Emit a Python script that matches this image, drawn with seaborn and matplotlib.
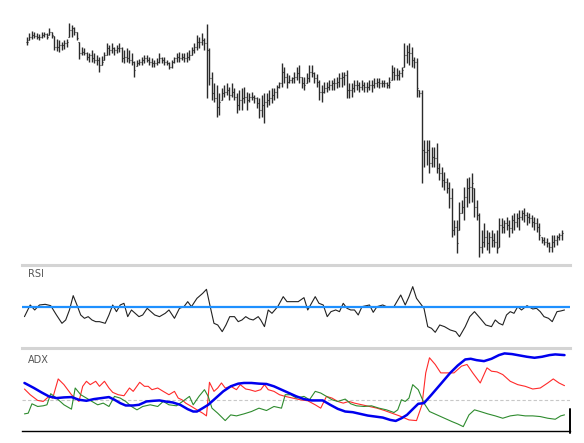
import numpy as np
import pandas as pd
import seaborn as sns
import matplotlib.pyplot as plt

# price bars (one per session)
highs = [88.8, 90.0, 90.7, 90.3, 90.0, 89.7, 90.3, 90.5, 90.2, 91.5, 90.5,
         89.2, 88.2, 88.0, 87.5, 88.0, 88.2, 93.2, 92.5, 92.0, 90.5,
         87.5, 86.0, 85.5, 84.5, 84.0, 85.0, 84.2, 83.5, 83.0, 83.2,
         84.5, 87.0, 86.5, 87.0, 86.0, 86.5, 87.0, 86.0, 85.0, 85.5,
         85.0, 84.0, 81.8, 82.0, 82.2, 83.0, 83.5, 83.5, 83.0, 82.5,
         82.0, 82.5, 84.0, 83.0, 83.0, 82.0, 81.5, 82.0, 83.0, 84.0,
         84.5, 84.0, 84.0, 84.5, 85.0, 86.0, 87.0, 89.5, 89.0, 90.0,
         88.5, 92.8, 85.6, 78.5, 75.0, 74.5, 72.0, 73.5, 74.5, 75.2,
         74.0, 75.0, 73.5, 72.0, 73.0, 73.5, 73.8, 72.5, 72.0, 72.5,
         71.5, 71.0, 70.5, 71.5, 72.0, 72.0, 73.0, 73.5, 73.5, 74.5,
         75.5, 81.0, 80.0, 78.0, 77.5, 77.0, 78.5, 80.0, 80.5, 77.0,
         77.0, 78.0, 80.5, 80.5, 78.5, 77.8, 76.0, 74.5, 75.5, 75.5,
         76.0, 76.0, 76.5, 77.0, 78.0, 78.5, 78.5, 79.0, 75.0, 75.0,
         76.0, 76.0, 75.5, 76.0, 75.5, 75.5, 76.0, 76.0, 76.5, 76.5,
         76.5, 76.0, 76.0, 75.5, 77.0, 80.5, 80.0, 79.5, 79.0, 80.0,
         87.0, 86.5, 87.0, 86.0, 83.0, 82.5, 73.0, 73.0, 58.0, 58.0,
         58.0, 56.0, 56.0, 57.0, 51.0, 50.0, 48.5, 46.5, 45.5, 43.5,
         34.0, 34.0, 39.5, 40.0, 44.0, 46.5, 47.0, 48.0, 43.5, 40.0,
         36.0, 31.0, 33.0, 31.0, 30.5, 31.0, 30.0, 31.0, 34.5, 34.5,
         34.0, 35.0, 34.0, 35.5, 36.0, 36.0, 37.0, 37.0, 37.5, 36.5,
         36.0, 35.5, 35.0, 34.5, 33.0, 29.0, 29.0, 28.5, 27.5, 29.5,
         29.5, 29.5, 30.0, 31.0]
lows = [86.5, 88.0, 88.2, 88.5, 88.2, 88.0, 88.7, 89.0, 88.2, 89.5, 88.5,
        85.0, 84.8, 84.5, 85.0, 85.2, 86.0, 88.8, 89.0, 89.5, 88.0,
        82.2, 83.5, 83.5, 82.0, 81.5, 81.5, 81.2, 80.5, 78.5, 80.5,
        82.0, 83.5, 83.5, 84.0, 83.5, 84.0, 84.5, 81.5, 81.0, 81.5,
        81.0, 80.5, 77.0, 80.2, 80.5, 80.5, 81.0, 81.5, 80.5, 80.0,
        80.0, 80.5, 81.0, 81.0, 80.5, 80.5, 79.2, 79.5, 81.0, 81.5,
        81.5, 82.0, 81.5, 81.5, 82.0, 83.5, 84.0, 85.0, 85.5, 86.5,
        85.0, 70.5, 74.5, 70.0, 69.5, 65.0, 65.5, 70.0, 71.0, 71.5,
        70.0, 71.0, 70.0, 66.0, 67.0, 67.0, 69.0, 67.0, 69.5, 70.0,
        69.0, 67.5, 64.5, 65.0, 63.0, 68.0, 68.5, 69.0, 70.0, 70.5,
        73.5, 74.0, 75.0, 73.5, 75.0, 75.0, 75.0, 76.0, 75.0, 73.5,
        73.0, 75.0, 75.5, 77.0, 75.0, 74.0, 70.0, 69.5, 72.0, 72.5,
        73.0, 73.0, 73.0, 73.5, 74.0, 74.0, 74.5, 70.5, 70.5, 71.0,
        72.5, 73.0, 72.5, 73.0, 72.5, 72.5, 73.0, 72.5, 73.5, 74.0,
        73.5, 74.0, 74.0, 73.5, 73.5, 76.0, 76.0, 76.0, 76.0, 77.0,
        80.0, 81.0, 80.5, 80.0, 79.5, 71.0, 71.0, 45.0, 50.0, 50.5,
        48.0, 50.0, 50.0, 48.0, 46.0, 44.0, 43.0, 42.0, 37.5, 29.0,
        29.5, 24.0, 31.0, 36.0, 34.0, 38.0, 39.0, 39.5, 35.0, 34.0,
        23.0, 24.0, 26.0, 25.0, 24.0, 26.0, 26.0, 24.0, 26.0, 30.0,
        30.0, 31.0, 29.0, 30.0, 31.0, 32.0, 31.0, 34.0, 33.5, 32.5,
        33.0, 32.0, 31.0, 30.5, 28.0, 27.0, 26.5, 26.0, 24.5, 24.5,
        26.0, 26.5, 28.0, 28.0]
closes = [87.5, 89.0, 89.5, 89.2, 89.0, 88.8, 89.5, 89.8, 89.0, 90.5, 89.5,
          86.0, 86.0, 86.5, 86.5, 87.0, 87.5, 91.0, 91.5, 90.5, 88.5,
          84.0, 84.5, 84.0, 83.0, 83.5, 82.5, 82.0, 82.0, 80.5, 81.5,
          83.5, 85.5, 85.0, 85.5, 85.0, 85.5, 85.5, 82.5, 83.0, 82.5,
          82.0, 81.5, 79.0, 81.0, 81.5, 82.0, 82.5, 82.0, 81.5, 81.0,
          81.0, 81.5, 82.5, 82.0, 81.5, 81.0, 80.0, 81.5, 82.5, 83.0,
          82.5, 83.0, 82.5, 83.0, 83.5, 85.0, 86.0, 87.5, 87.5, 88.0,
          87.0, 85.0, 76.5, 72.0, 70.5, 68.0, 69.5, 72.0, 72.5, 73.0,
          71.5, 72.5, 71.0, 68.5, 70.0, 70.5, 71.0, 70.0, 71.0, 71.0,
          70.5, 69.0, 67.0, 68.5, 69.5, 70.0, 70.5, 71.5, 72.5, 74.0,
          75.0, 78.5, 77.0, 75.5, 76.0, 76.5, 77.0, 78.0, 77.0, 75.0,
          74.5, 76.5, 78.5, 78.0, 76.5, 75.5, 72.5, 72.5, 73.5, 74.0,
          74.5, 75.0, 75.0, 75.5, 76.5, 77.0, 77.5, 73.0, 73.0, 73.5,
          74.5, 74.5, 74.0, 74.5, 74.0, 74.0, 74.5, 74.5, 75.0, 75.5,
          75.0, 75.0, 75.0, 74.5, 75.5, 78.5, 77.5, 77.5, 78.0, 79.0,
          83.5, 84.5, 84.0, 82.0, 81.5, 73.5, 72.0, 55.0, 54.5, 55.0,
          51.0, 53.0, 52.5, 49.5, 48.0, 46.0, 45.5, 43.5, 40.5, 31.0,
          32.0, 27.0, 36.0, 38.0, 41.0, 43.5, 44.0, 45.0, 38.0, 35.5,
          26.0, 27.5, 29.0, 27.0, 29.0, 28.0, 27.5, 25.5, 32.5, 32.0,
          33.0, 32.5, 31.5, 34.0, 33.5, 34.5, 35.0, 36.0, 35.5, 35.0,
          34.5, 33.5, 33.0, 32.0, 29.5, 28.0, 27.5, 27.0, 26.0, 27.5,
          28.0, 29.0, 29.5, 30.0]

# RSI (session number, value)
rsi_t = [-0.9, 1.4, 3.2, 5.1, 7.4, 9.6, 11.9, 14.1, 15.6, 17.1, 18.6, 20.1, 21.6,
         23.1, 24.6, 26.1, 27.6, 29.1, 31.4, 32.9, 34.4, 35.9, 37.4, 38.9, 40.4,
         41.9, 43.4, 44.9, 46.4, 48.2, 49.7, 51.2, 53.1, 55.4, 56.9, 59.1, 61.1,
         62.9, 64.4, 65.9, 68.1, 70.4, 71.9, 73.4, 74.9, 76.4, 78.2, 79.7, 81.2,
         83.1, 84.6, 86.1, 87.6, 89.1, 90.6, 92.6, 93.6, 95.1, 96.6, 98.1, 100.4,
         102.6, 104.1, 106.4, 108.6, 110.9, 112.4, 113.9, 115.4, 116.9, 118.6,
         120.2, 121.7, 123.6, 125.1, 126.6, 128.1, 129.6, 131.1, 132.6, 134.1,
         137.1, 138.6, 140.1, 142.4, 143.9, 146.9, 149.6, 151.4, 152.9, 154.4,
         155.9, 157.4, 158.9, 160.4, 161.9, 163.4, 165.2, 167.1, 169.4, 171.6,
         173.1, 175.4, 177.2, 179.1, 181.4, 183.6, 185.9, 187.4, 188.9, 190.4,
         191.9, 193.4, 194.9, 196.4, 197.9, 200.1, 202.4, 203.9, 205.4, 206.9,
         208.7, 210.2, 212.1, 213.6, 215.1]
rsi = [38.0, 52.0, 46.0, 52.0, 52.8, 51.2, 40.0, 30.0, 34.0, 46.0, 63.2, 52.0, 40.0,
       36.0, 38.0, 34.0, 32.0, 32.0, 30.0, 40.0, 52.0, 44.0, 52.0, 54.0, 38.0,
       46.0, 42.0, 38.0, 40.0, 48.0, 44.0, 40.0, 38.0, 42.0, 46.0, 36.0, 48.0,
       50.0, 56.0, 50.0, 60.0, 66.0, 70.8, 50.0, 30.0, 28.0, 20.0, 28.0, 38.0,
       38.0, 32.0, 34.0, 38.0, 35.2, 34.0, 38.0, 34.0, 26.0, 46.0, 42.0, 50.0,
       62.0, 56.0, 56.0, 56.0, 60.8, 46.0, 54.0, 62.0, 54.0, 52.0,
       38.0, 44.0, 46.0, 44.0, 54.0, 48.0, 46.0, 46.0, 40.0, 50.0,
       52.0, 43.2, 50.0, 52.0, 50.0, 50.0, 64.0, 52.0, 62.0, 74.0,
       60.0, 54.0, 48.0, 26.0, 24.0, 19.2, 28.0, 26.0, 22.0, 20.0,
       14.0, 26.0, 38.0, 44.0, 36.0, 28.0, 26.0, 34.0, 30.0, 28.0,
       40.0, 44.0, 42.0, 50.0, 46.0, 51.2, 47.2, 48.0, 44.0, 38.0,
       36.0, 32.0, 44.0, 44.8, 46.0]

# ADX
adx_t = [-0.9, 2.9, 5.9, 8.9, 11.9, 14.9, 17.9, 20.9, 23.9, 26.9, 29.9, 32.9,
         35.1, 37.4, 39.6, 42.6, 44.9, 47.9, 50.9, 53.1, 55.4, 58.4, 61.4, 64.4,
         66.6, 68.1, 70.4, 72.6, 75.6, 78.6, 81.6, 84.6, 86.9, 89.9, 92.9, 95.9,
         98.9, 101.9, 104.9, 107.9, 110.9, 113.9, 118.4, 121.4, 124.4, 127.4,
         130.4, 133.4, 136.4, 139.4, 142.4, 145.4, 147.6, 149.9, 152.1, 154.4,
         156.6, 158.9, 161.9, 165.6, 169.4, 172.4, 175.4, 177.6, 179.9, 182.9,
         185.9, 188.9, 191.1, 194.1, 197.1, 200.1, 203.1, 206.1, 209.1, 211.4, 215.1]
adx = [32.5, 28.75, 25.5, 22.5, 21.25, 21.75, 22.0, 20.0, 19.25, 20.5, 21.25, 22.0,
       20.0, 17.5, 15.75, 15.75, 16.25, 18.75, 19.25, 19.5, 18.75, 18.0, 16.25, 13.0,
       11.25, 11.25, 13.75, 16.25, 21.25, 26.25, 30.0, 32.0, 32.5, 32.5, 32.0, 31.75,
       30.0, 27.5, 25.0, 22.5, 20.5, 19.5, 19.5, 16.25, 13.25, 11.25,
       10.75, 9.5, 8.25, 7.5, 6.75, 5.0, 4.25, 6.25, 8.75, 13.0,
       17.0, 17.5, 23.75, 31.75, 40.0, 45.5, 50.0, 50.5, 49.5, 48.75,
       50.5, 53.25, 54.5, 54.0, 53.0, 52.0, 51.25, 52.0, 53.25, 53.75, 53.25]

# +DI
pdi_t = [-0.9, 1.4, 4.4, 6.6, 8.9, 10.4, 12.6, 14.9, 17.9, 20.9, 22.4, 23.9, 25.4,
         27.6, 29.1, 31.1, 32.9, 34.4, 36.6, 38.9, 41.1, 42.6, 45.2, 47.1, 48.6,
         50.1, 52.4, 54.6, 56.9, 59.1, 60.6, 62.1, 63.6, 65.9, 68.1, 70.4, 71.9,
         73.1, 74.9, 76.4, 77.9, 79.4, 81.6, 83.9, 85.4, 87.6, 89.1, 91.4, 93.6,
         95.1, 96.6, 98.9, 101.1, 103.4, 106.4, 109.4, 112.4, 115.4, 117.6, 119.9,
         122.1, 124.4, 126.6, 128.9, 131.1, 134.1, 137.1, 140.1, 143.1, 146.1,
         149.1, 152.9, 155.9, 158.1, 159.6, 161.1, 163.4, 165.6, 167.9, 170.9,
         173.9, 176.1, 178.4, 181.4, 184.1, 185.9, 188.1, 190.4, 193.4, 196.4,
         199.4, 202.4, 205.4, 208.4, 210.6, 212.9, 215.1]
pdi = [28.0, 23.75, 19.5, 18.75, 22.5, 21.25, 35.5, 31.25, 23.75, 18.75, 30.0, 33.75, 31.25,
       33.75, 30.0, 33.75, 28.75, 25.5, 23.75, 23.0, 28.75, 26.25, 33.0, 30.0, 30.0,
       27.5, 28.75, 26.25, 23.75, 26.25, 21.25, 20.0, 17.5, 15.0, 12.5, 10.0, 8.0,
       33.0, 26.25, 28.75, 32.5, 28.75, 30.0, 27.5, 31.25, 28.0, 27.5, 26.25, 27.5,
       31.25, 27.5, 26.25, 23.75, 22.5, 21.25, 20.0, 19.25, 16.25, 13.75, 22.5,
       21.25, 18.75, 17.5, 18.75, 17.5, 16.25, 15.0, 13.75, 12.0, 10.0,
       8.0, 5.0, 4.5, 16.25, 40.0, 51.25, 46.25, 40.0, 40.0, 40.0,
       45.0, 46.25, 40.0, 32.5, 43.75, 41.25, 40.75, 38.75, 33.75, 31.25,
       30.0, 28.0, 28.75, 32.5, 35.5, 32.5, 30.5]

# -DI
mdi_t = [-0.9, 0.6, 2.1, 4.4, 6.6, 8.1, 9.6, 11.9, 14.9, 17.9, 19.4, 21.6, 23.9,
         26.1, 28.4, 30.6, 32.9, 35.1, 37.4, 39.6, 41.9, 44.1, 46.4, 49.4, 52.4,
         54.6, 56.9, 59.9, 62.9, 65.1, 66.6, 68.9, 71.1, 72.6, 74.1, 76.4, 79.4,
         81.6, 83.9, 86.9, 89.9, 92.9, 95.9, 98.9, 101.9, 103.4, 105.6, 107.9,
         110.9, 113.1, 115.4, 117.6, 119.9, 122.1, 124.4, 127.4, 129.6, 131.9,
         134.9, 137.9, 140.9, 143.9, 146.9, 148.4, 149.9, 151.4, 152.9, 154.4,
         156.6, 158.9, 161.1, 164.1, 167.1, 170.1, 172.4, 174.6, 176.9, 179.1,
         181.4, 184.4, 187.4, 190.4, 193.4, 196.4, 199.4, 202.4, 205.4, 208.4,
         211.4, 213.6, 215.1]
mdi = [9.5, 10.0, 17.0, 15.0, 15.5, 16.25, 24.5, 21.25, 16.25, 13.0, 28.75, 23.75, 21.25,
       18.75, 16.25, 17.5, 15.0, 22.5, 21.25, 18.75, 15.0, 12.5, 15.0, 16.25, 15.0,
       18.75, 16.25, 15.5, 19.5, 22.5, 16.25, 22.5, 27.5, 22.5, 13.75, 10.0, 4.5,
       8.75, 8.0, 9.5, 11.25, 13.75, 12.0, 15.0, 13.75, 23.75, 23.75, 21.25,
       22.5, 20.0, 26.25, 25.0, 22.5, 20.0, 18.75, 20.5, 17.0, 15.5,
       15.0, 15.5, 13.75, 12.5, 10.5, 12.5, 20.0, 18.75, 21.25, 31.25,
       27.5, 17.5, 11.25, 8.75, 6.25, 3.75, 2.0, 0.0, 8.75, 12.5,
       11.25, 9.5, 8.0, 6.25, 8.0, 8.75, 8.0, 8.0, 7.5, 6.25,
       5.5, 8.0, 8.75]

sns.set_style("white")
fig = plt.figure(figsize=(5.84, 4.43), dpi=100)

left, width = 22 / 584, 548 / 584
ax_price = fig.add_axes([left, 181 / 443, width, 262 / 443])
ax_rsi = fig.add_axes([left, 94.7 / 443, width, 83.3 / 443])
ax_adx = fig.add_axes([left, 12 / 443, width, 82.7 / 443])

hi = np.array(highs)
lo = np.array(lows)
cl = np.clip(np.array(closes), lo, hi)
op = np.clip(np.r_[cl[0], cl[:-1]], lo, hi)
idx = np.arange(len(hi))

bar_color = "#2b2b2b"
ax_price.vlines(idx, lo, hi, color=bar_color, lw=1.0)
ax_price.hlines(op, idx - 0.45, idx, color=bar_color, lw=0.8)
ax_price.hlines(cl, idx, idx + 0.45, color=bar_color, lw=0.8)
ax_price.set_ylim(21.4, 100)

# RSI
rsi_df = pd.DataFrame({"t": rsi_t, "rsi": rsi})
sns.lineplot(data=rsi_df, x="t", y="rsi", ax=ax_rsi, color="#222222",
             lw=0.8, estimator=None)
ax_rsi.axhline(50, color="#1e90ff", lw=1.6, zorder=3)
ax_rsi.set_ylim(0, 100)
ax_rsi.text(0.011, 0.95, "RSI", transform=ax_rsi.transAxes, fontsize=7,
            color="#555555", va="top", ha="left")

# ADX
ax_adx.axhline(20, color="#c8c8c8", lw=0.8, ls=(0, (3, 2)), zorder=1)
sns.lineplot(x=pdi_t, y=pdi, ax=ax_adx, color="#ff2a2a", lw=0.8, estimator=None)
sns.lineplot(x=mdi_t, y=mdi, ax=ax_adx, color="#2e8b2e", lw=0.8, estimator=None)
sns.lineplot(x=adx_t, y=adx, ax=ax_adx, color="#0000ee", lw=1.8, estimator=None)
ax_adx.set_ylim(-3.25, 58.3)
ax_adx.text(0.011, 0.92, "ADX", transform=ax_adx.transAxes, fontsize=7,
            color="#555555", va="top", ha="left")
ax_adx.plot([1.0, 1.0], [-0.03, 0.26], transform=ax_adx.transAxes,
            color="black", lw=1.4, clip_on=False)

for ax in (ax_price, ax_rsi, ax_adx):
    ax.set_xlim(-1.88, 217.3)
    ax.set_xticks([])
    ax.set_yticks([])
    ax.set_xlabel("")
    ax.set_ylabel("")
    for s in ax.spines.values():
        s.set_visible(False)

for ax in (ax_rsi, ax_adx):
    ax.spines["top"].set_visible(True)
    ax.spines["top"].set_color("#d4d4d4")
    ax.spines["top"].set_linewidth(2.2)

ax_adx.spines["bottom"].set_visible(True)
ax_adx.spines["bottom"].set_color("black")
ax_adx.spines["bottom"].set_linewidth(1.0)

fig.savefig("out.png", dpi=100)
